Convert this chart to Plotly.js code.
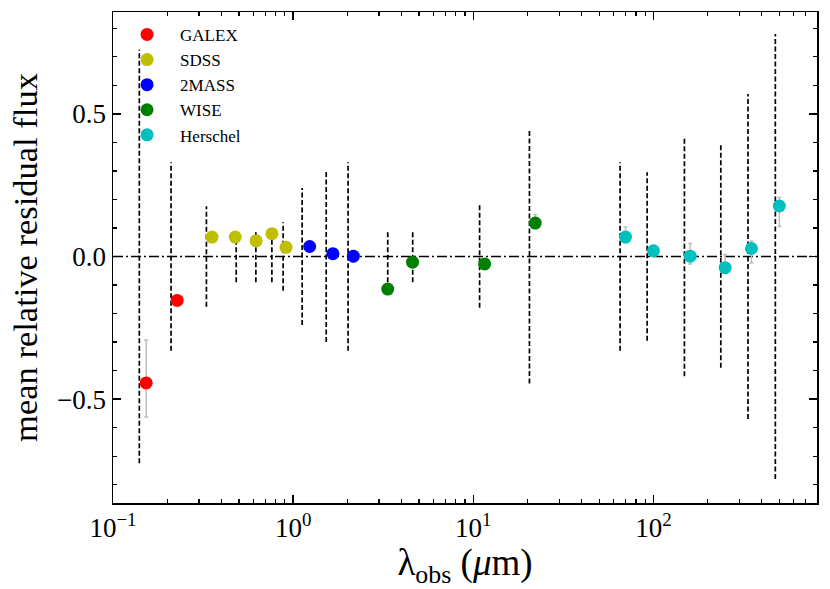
<!DOCTYPE html>
<html>
<head>
<meta charset="utf-8">
<script src="https://cdn.plot.ly/plotly-3.0.1.min.js"></script>
<style>html,body{margin:0;padding:0;background:#fff;}#chart{width:830px;height:589px;}</style>
</head>
<body>
<div id="chart"></div>
<script>
// ---- data ----
const galexX = [0.1528, 0.2271];
const galexY = [-0.443, -0.154];
const galexErrPlus = [0.15, 0.02];
const galexErrMinus = [0.12, 0.01];

const sdssX = [0.3543, 0.4770, 0.6231, 0.7625, 0.9134];
const sdssY = [0.068, 0.068, 0.055, 0.080, 0.032];
const sdssErr = [0.01, 0.01, 0.01, 0.01, 0.01];

const tmassX = [1.235, 1.662, 2.159];
const tmassY = [0.035, 0.010, 0.001];
const tmassErr = [0.01, 0.01, 0.02];

const wiseX = [3.35, 4.60, 11.56, 22.08];
const wiseY = [-0.114, -0.020, -0.026, 0.117];
const wiseErrPlus = [0.01, 0.01, 0.01, 0.03];
const wiseErrMinus = [0.01, 0.01, 0.01, 0.01];

const herschelX = [70, 100, 160, 250, 350, 500];
const herschelY = [0.068, 0.020, 0.001, -0.039, 0.028, 0.177];
const herschelErrPlus = [0.035, 0.015, 0.045, 0.046, 0.026, 0.030];
const herschelErrMinus = [0.020, 0.015, 0.027, 0.020, 0.051, 0.072];

// model scatter (dashed vertical bars)
const bandX = [0.140, 0.210, 0.330, 0.483, 0.621, 0.762, 0.880, 1.122, 1.526, 2.018,
               3.35, 4.61, 10.84, 20.5, 65.3, 92.3, 148.6, 236.6, 335, 475];
const bandSpread = [0.725, 0.33, 0.176, 0.09, 0.09, 0.09, 0.12, 0.24, 0.30, 0.33,
                    0.09, 0.09, 0.18, 0.445, 0.33, 0.295, 0.42, 0.39, 0.57, 0.78];

const xTickVals = [0.1, 1, 10, 100];
const xTickText = ['10<sup>\u22121</sup>', '10<sup>0</sup>', '10<sup>1</sup>', '10<sup>2</sup>'];
const yTickVals = [-0.5, 0, 0.5];
const yTickText = ['\u22120.5', '0.0', '0.5'];

// ---- build ----
const dashXs = [], dashYs = [];
bandX.forEach((x, i) => {
  dashXs.push(x, x, null);
  dashYs.push(-bandSpread[i], bandSpread[i], null);
});

const errColor = '#bdbdbd';
const serif = '"Liberation Serif", "DejaVu Serif", serif';
function pts(name, x, y, ep, em, color) {
  return {
    type: 'scatter', mode: 'markers', name: name, x: x, y: y,
    marker: {color: color, size: 13, line: {width: 0}},
    error_y: {type: 'data', symmetric: false, array: ep, arrayminus: em,
              color: errColor, thickness: 1.5, width: 2},
    showlegend: true
  };
}

const traces = [
  {type: 'scatter', mode: 'lines', x: dashXs, y: dashYs, connectgaps: false,
   line: {color: 'black', width: 1.7, dash: '5px,2.5px'}, showlegend: false, hoverinfo: 'skip'},
  pts('GALEX', galexX, galexY, galexErrPlus, galexErrMinus, '#ff0000'),
  pts('SDSS', sdssX, sdssY, sdssErr, sdssErr, '#bfbf00'),
  pts('2MASS', tmassX, tmassY, tmassErr, tmassErr, '#0000ff'),
  pts('WISE', wiseX, wiseY, wiseErrPlus, wiseErrMinus, '#008000'),
  pts('Herschel', herschelX, herschelY, herschelErrPlus, herschelErrMinus, '#00bfbf')
];

const layout = {
  width: 830, height: 589,
  margin: {l: 113, r: 13, t: 12, b: 86},
  paper_bgcolor: '#fff', plot_bgcolor: '#fff',
  font: {family: serif, color: 'black'},
  showlegend: true,
  legend: {x: 0.0015, y: 0.99, xanchor: 'left', yanchor: 'top',
           bgcolor: 'rgba(0,0,0,0)', font: {family: serif, size: 17, color: 'black'},
           tracegroupgap: 0, itemwidth: 56},
  xaxis: {
    type: 'log', range: [-1, 2.908],
    tickvals: xTickVals, ticktext: xTickText,
    ticks: 'inside', ticklen: 8, tickwidth: 1.5, tickcolor: 'black',
    minor: {ticks: 'inside', ticklen: 4, tickwidth: 1.2, tickcolor: 'black', dtick: 'D1'},
    showline: true, linecolor: 'black', linewidth: 1.5, mirror: 'allticks',
    showgrid: false, zeroline: false,
    tickfont: {family: serif, size: 27, color: 'black'},
    title: {text: '\u03bb<sub>obs</sub> (<i>\u03bc</i>m)', font: {family: serif, size: 37, color: 'black'}, standoff: 0}
  },
  yaxis: {
    range: [-0.864, 0.857],
    tickvals: yTickVals, ticktext: yTickText,
    ticks: 'inside', ticklen: 8, tickwidth: 1.5, tickcolor: 'black',
    minor: {ticks: 'inside', ticklen: 4, tickwidth: 1.2, tickcolor: 'black', dtick: 0.1},
    showline: true, linecolor: 'black', linewidth: 1.5, mirror: 'allticks',
    showgrid: false, zeroline: false,
    tickfont: {family: serif, size: 27, color: 'black'},
    title: {text: 'mean relative residual flux', font: {family: serif, size: 34.5, color: 'black'}, standoff: 9}
  },
  shapes: [{type: 'line', xref: 'paper', yref: 'y', x0: 0, x1: 1, y0: 0, y1: 0,
            layer: 'below', line: {color: 'black', width: 1.5, dash: '10px,3px,2px,3px'}}]
};

Plotly.newPlot('chart', traces, layout, {displayModeBar: false, staticPlot: true});
</script>
</body>
</html>
